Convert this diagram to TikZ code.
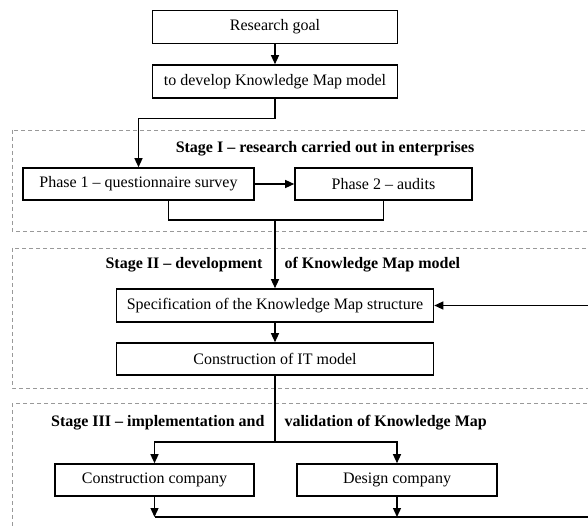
\documentclass[tikz,border=0pt]{standalone}
\usepackage{fontspec}
\setmainfont{Liberation Serif}
\usetikzlibrary{arrows.meta,positioning,calc}

\begin{document}
\begin{tikzpicture}[x=1pt, y=-1pt, >={Triangle[length=9pt,width=8pt]},
  font=\fontsize{16}{18}\selectfont,
  stepbox/.style={draw, line width=1.6pt, minimum height=33pt, inner sep=0pt},
  stagebox/.style={draw=gray!80, dash pattern=on 4pt off 3pt, line width=0.8pt},
  stagelabel/.style={font=\fontsize{16}{18}\selectfont\bfseries},
  link/.style={line width=1.3pt}]
  \useasboundingbox (0,0) rectangle (588,526);
  \clip (0,0) rectangle (588,526);

  %% Stage frames (cut off at the right and bottom)
  \draw[stagebox] (12,130) rectangle (600,231);
  \draw[stagebox] (12,248) rectangle (600,388);
  \draw[stagebox] (12,403) rectangle (600,540);

  %% Goal
  \node[stepbox, minimum width=245pt] (goal) at (275,27) {Research goal};
  \node[stepbox, minimum width=245pt] (develop) at (275,81.5)
    {to develop Knowledge Map model};

  %% Stage I
  \node[stagelabel] (stageI) at (325,149)
    {Stage I -- research carried out in enterprises};
  \node[stepbox, minimum width=231pt, minimum height=32pt] (phase1) at (138.5,184)
    {Phase 1 -- questionnaire survey};
  \node[stepbox, minimum width=177pt, minimum height=32pt] (phase2) at (383.5,184)
    {Phase 2 -- audits};

  %% Stage II
  \node[stagelabel, anchor=east] (stageIIa) at (266,265) {Stage II -- development};
  \node[stagelabel, anchor=west] (stageIIb) at (281,265) {of Knowledge Map model};
  \node[stepbox, minimum width=317pt] (spec) at (275,305.5)
    {Specification of the Knowledge Map structure};
  \node[stepbox, minimum width=317pt, minimum height=32pt] (itmodel) at (275,359)
    {Construction of IT model};

  %% Stage III
  \node[stagelabel, anchor=east] (stageIIIa) at (268,423)
    {Stage III -- implementation and};
  \node[stagelabel, anchor=west] (stageIIIb) at (281,423)
    {validation of Knowledge Map};
  \node[stepbox, minimum width=199pt, minimum height=32pt] (constr) at (154.5,480)
    {Construction company};
  \node[stepbox, minimum width=200pt, minimum height=32pt] (design) at (397,480)
    {Design company};

  %% Connectors
  \coordinate (join) at (275,220);
  \coordinate (fork) at (275,442);
  \coordinate (edgeA) at (588,305.5);
  \coordinate (edgeB) at (588,517);
  \draw[link,->] (goal) -- (develop);
  \draw[link,->] (develop.south) -- ++(0,20) -| (phase1.north);
  \draw[link,->] (phase1) -- (phase2);
  \draw[link] ($(phase1.south)+(30,0)$) |- (join) -| (phase2.south);
  \draw[link,->] (join) -- (spec.north);
  \draw[link,->] (spec) -- (itmodel);
  \draw[link] (itmodel.south) -- (fork);
  \draw[link,->] (fork) -| (constr.north);
  \draw[link,->] (fork) -| (design.north);
  \draw[link,->] (edgeA) -- (spec.east);
  \draw[link,->] (constr.south) -- (constr.south |- edgeB);
  \draw[link,->] (design.south) -- (design.south |- edgeB);
  \draw[link] (constr.south |- edgeB) -- (edgeB);
\end{tikzpicture}
\end{document}
